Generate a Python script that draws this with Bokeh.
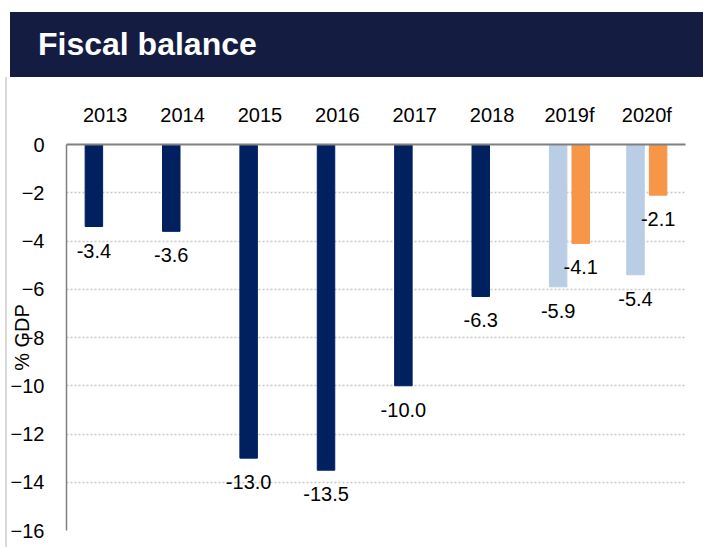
from bokeh.plotting import figure
from bokeh.models import ColumnDataSource, Div, FactorRange, Range1d, FixedTicker
from bokeh.layouts import column, row
from bokeh.transform import dodge
from bokeh.core.properties import value
from bokeh.embed import file_html
from bokeh.resources import INLINE

# ---- data ----
categories = ["2013", "2014", "2015", "2016", "2017", "2018", "2019f", "2020f"]
balance = [-3.4, -3.6, -13.0, -13.5, -10.0, -6.3, -5.9, -5.4]
balance_colors = ["#002060"] * 6 + ["#B9CDE5"] * 2
alt_categories = ["2019f", "2020f"]
alt_balance = [-4.1, -2.1]
y_ticks = [0, -2, -4, -6, -8, -10, -12, -14, -16]

FONT = "Liberation Sans"

src1 = ColumnDataSource(dict(cat=categories, val=balance, color=balance_colors,
                             lab=["%.1f" % v for v in balance]))
src2 = ColumnDataSource(dict(cat=alt_categories, val=alt_balance,
                             lab=["%.1f" % v for v in alt_balance]))

p = figure(width=688, height=470, x_range=FactorRange(*categories),
           y_range=Range1d(-16, 0), x_axis_location="above",
           output_backend="svg", toolbar_location=None,
           min_border_left=59, min_border_right=10, min_border_top=67, min_border_bottom=17)
p.outline_line_color = None

off = 0.146
w = 0.226
p.vbar(x=dodge("cat", -off, range=p.x_range), top=0, bottom="val", width=w,
       color="color", source=src1)
p.vbar(x=dodge("cat", off, range=p.x_range), top=0, bottom="val", width=w,
       color="#F79646", source=src2)

p.text(x=dodge("cat", -off, range=p.x_range), y="val", text="lab", source=src1,
       text_align="center", text_baseline="top", y_offset=17,
       text_font=value(FONT), text_font_size="20px", text_color="#000000")
p.text(x=dodge("cat", off, range=p.x_range), y="val", text="lab", source=src2,
       text_align="center", text_baseline="top", y_offset=17,
       text_font=value(FONT), text_font_size="20px", text_color="#000000")

# x axis (categories on top)
xa = p.xaxis[0]
xa.axis_line_color = "#808080"
xa.axis_line_width = 2
xa.major_tick_line_color = None
xa.minor_tick_line_color = None
xa.major_label_standoff = 13
xa.major_label_text_font = FONT
xa.major_label_text_font_size = "20px"
xa.major_label_text_color = "#000000"

# y axis
ya = p.yaxis[0]
ya.ticker = FixedTicker(ticks=y_ticks)
ya.axis_line_color = "#808080"
ya.axis_line_width = 1.5
ya.major_tick_line_color = None
ya.minor_tick_line_color = None
ya.major_label_standoff = 16
ya.major_label_text_font = FONT
ya.major_label_text_font_size = "20px"
ya.major_label_text_color = "#000000"
ya.axis_label = "% GDP"
ya.axis_label_text_font = FONT
ya.axis_label_text_font_size = "20px"
ya.axis_label_text_font_style = "normal"
ya.axis_label_text_color = "#000000"
ya.axis_label_standoff = -25

p.xgrid.grid_line_color = None
p.ygrid.ticker = FixedTicker(ticks=y_ticks)
p.ygrid.grid_line_color = "#C8C8C8"
p.ygrid.grid_line_width = 1.5
p.ygrid.grid_line_dash = "2 2"

banner = Div(text='<div style="width:693px;height:65px;background:#141C42;color:#ffffff;'
                  'font-family:\'Liberation Sans\',Arial,sans-serif;font-weight:bold;font-size:32px;'
                  'line-height:65px;padding-left:28px;box-sizing:border-box;">Fiscal balance</div>',
             width=693, height=65, margin=(12, 0, 0, 10))

edge = Div(text='<div style="width:2px;height:470px;background:#D9D9D9;"></div>',
           width=2, height=470, margin=(0, 0, 0, 5))

layout = column(banner, row(edge, p, spacing=0), spacing=0)

open("out.html", "w").write(file_html(layout, INLINE))
